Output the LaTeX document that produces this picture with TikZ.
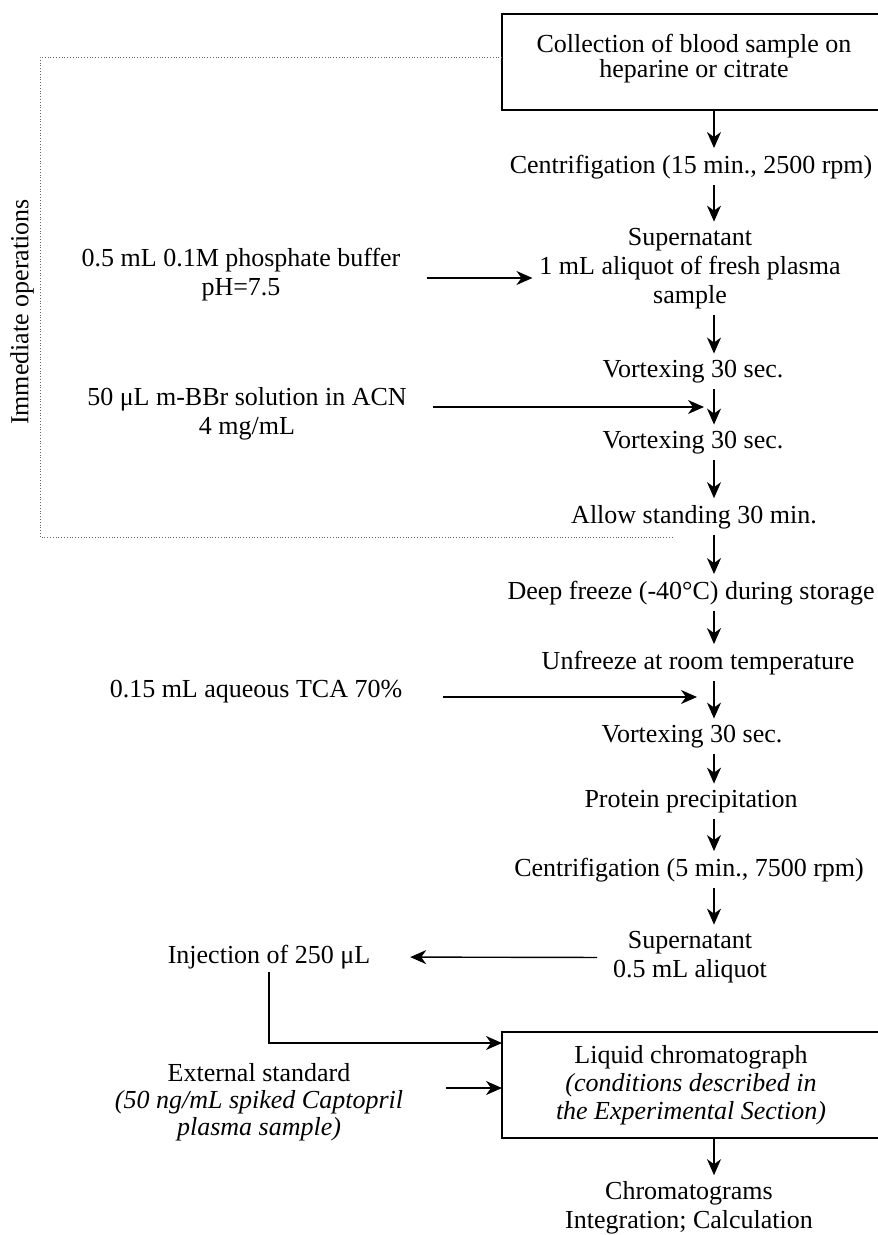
\documentclass[tikz,border=0pt]{standalone}
\usepackage{fontspec}
\setmainfont{Liberation Serif}
\usetikzlibrary{arrows.meta}
\begin{document}
\begin{tikzpicture}[x=0.5pt,y=-0.5pt,
  every node/.style={font=\fontsize{13pt}{14.5pt}\selectfont, inner sep=0pt, outer sep=0pt, align=center},
  arr/.style={-{Stealth[length=8pt,width=7pt,inset=2.5pt]}, line width=0.7pt},
  dn/.style={arr, shorten <=3pt, shorten >=3.5pt},
  boxn/.style={draw, line width=1.2pt, minimum width=189pt},
  dotline/.style={densely dotted, line width=0.4pt, black!60}]
\useasboundingbox (0,0) rectangle (877,1235);
\fill[white] (0,0) rectangle (877,1235);

\coordinate (ax) at (714,0);

% top box
\node[boxn, minimum height=48pt] (b1) at (691,62) {};
\node[font=\fontsize{13pt}{12.5pt}\selectfont] (t1) at (694,58.5) {Collection of blood sample on\\heparine or citrate};

% main column
\node (c1) at (691,167) {Centrifigation (15 min., 2500 rpm)};
\node (s1) at (690,269) {Supernatant\\1 mL aliquot of fresh plasma\\sample};
\node (v1) at (693,372) {Vortexing 30 sec.};
\node (v2) at (693,443) {Vortexing 30 sec.};
\node (al) at (694,517) {Allow standing 30 min.};
\node (df) at (691,593) {Deep freeze (-40°C) during storage};
\node (uf) at (698,663) {Unfreeze at room temperature};
\node (v3) at (692,737) {Vortexing 30 sec.};
\node (pp) at (691,802) {Protein precipitation};
\node (c2) at (689,870) {Centrifigation (5 min., 7500 rpm)};
\node (s2) at (690,957.5) {Supernatant\\0.5 mL aliquot};
\node[boxn, minimum height=53pt, font=\fontsize{13pt}{14pt}\selectfont] (lc) at (691,1085)
  {Liquid chromatograph\\\itshape(conditions described in\\\itshape the Experimental Section)};
\node (ch) at (689,1207.5) {Chromatograms\\Integration; Calculation};

% left column
\node[rotate=90] (imm) at (22,312) {Immediate operations};
\node (phos) at (241,275) {0.5 mL 0.1M phosphate buffer\\pH=7.5};
\node (mbbr) at (247,414) {50 μL m-BBr solution in ACN\\4 mg/mL};
\node (tca) at (256,692) {0.15 mL aqueous TCA 70\%};
\node (inj) at (269,957) {Injection of 250 μL};
\node[font=\fontsize{13pt}{13.5pt}\selectfont] (ext) at (259,1102)
  {External standard\\\itshape(50 ng/mL spiked Captopril\\\itshape plasma sample)};

% dotted bracket
\coordinate (dl) at (40,537);
\coordinate (dr) at (674,537);
\draw[dotline] ([yshift=2.5pt]b1.west) -| (dl) -- (dr);

% vertical flow arrows
\draw[arr, shorten >=3.5pt] (b1.south -| ax) -- (c1.north -| ax);
\draw[dn] (c1.south -| ax) -- (s1.north -| ax);
\draw[dn] (s1.south -| ax) -- (v1.north -| ax);
\draw[dn] (v1.south -| ax) -- (v2.north -| ax);
\draw[dn] (v2.south -| ax) -- (al.north -| ax);
\draw[dn] (al.south -| ax) -- (df.north -| ax);
\draw[dn] (df.south -| ax) -- (uf.north -| ax);
\draw[dn] (uf.south -| ax) -- (v3.north -| ax);
\draw[dn] (v3.south -| ax) -- (pp.north -| ax);
\draw[dn] (pp.south -| ax) -- (c2.north -| ax);
\draw[dn] (c2.south -| ax) -- (s2.north -| ax);
\draw[arr, shorten >=3pt] (lc.south -| ax) -- (ch.north -| ax);

% side inputs
\path ([yshift=-4.5pt]s1.west) coordinate (s1in);
\draw[arr, shorten <=13.5pt, shorten >=3.5pt] (phos.east |- s1in) -- (s1in);
\coordinate (pm) at (704,407);
\draw[arr, shorten <=13pt] (mbbr.east |- pm) -- (pm);
\coordinate (pt) at (697,697);
\draw[arr, shorten <=20.5pt] (tca.east |- pt) -- (pt);
\draw[arr, shorten <=8pt, shorten >=20pt] (s2.west) -- (inj.east);
\draw[arr, shorten <=1.5pt] (inj.south) |- ([yshift=-5.5pt]lc.north west);
\path ([yshift=-1.5pt]lc.west) coordinate (lcin);
\draw[arr, shorten <=21.5pt] (ext.east |- lcin) -- (lcin);
\end{tikzpicture}
\end{document}
